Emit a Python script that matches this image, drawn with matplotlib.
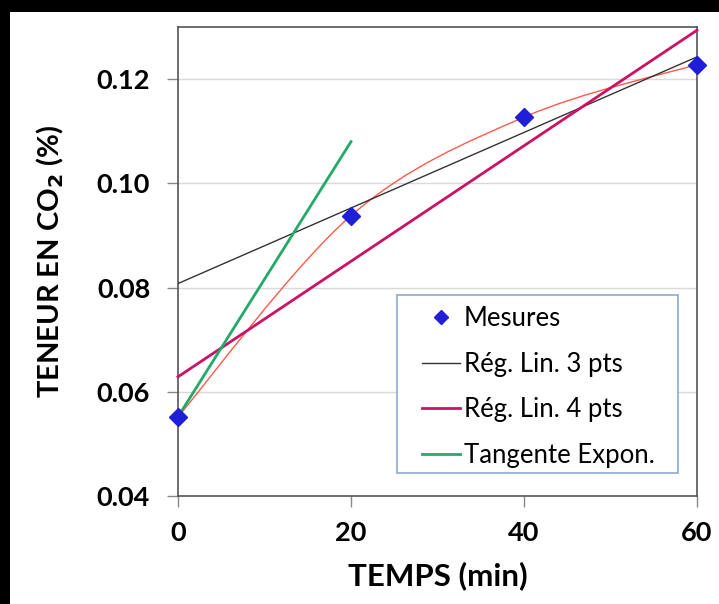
import numpy as np
import matplotlib
matplotlib.use("Agg")
import matplotlib.pyplot as plt
from matplotlib.path import Path
from matplotlib.patches import PathPatch, Rectangle

# Data
temps = [0, 20, 40, 60]
teneur = [0.0552, 0.0938, 0.1127, 0.1228]
tangente_x = [0, 20]
tangente_y = [0.0552, 0.1080]
x_ticks = [0, 20, 40, 60]
y_ticks = [0.04, 0.06, 0.08, 0.10, 0.12]
y_tick_labels = ["0.04", "0.06", "0.08", "0.10", "0.12"]
legend_labels = ["Mesures", "Rég. Lin. 3 pts", "Rég. Lin. 4 pts", "Tangente Expon."]

plt.rcParams['font.family'] = ['Lato', 'DejaVu Sans']

W, H = 719, 604
fig = plt.figure(figsize=(W/100, H/100), dpi=100, facecolor='black')
fig.patches.append(Rectangle((10/W, 0), 1, 1 - 12/H, transform=fig.transFigure,
                             facecolor='white', edgecolor='none', zorder=-10))
ax = fig.add_axes([178/W, 1 - 496/H, (697-178)/W, (496-27)/H])
ax.set_xlim(0, 60)
ax.set_ylim(0.04, 0.13)

xs = np.array(temps, dtype=float)
ys = np.array(teneur, dtype=float)

# Regression lines
p3 = np.polyfit(xs[1:], ys[1:], 1)
p4 = np.polyfit(xs, ys, 1)
xl = np.array([0, 60])
l3, = ax.plot(xl, np.polyval(p3, xl), color='#333333', lw=1.0, zorder=3)
l4, = ax.plot(xl, np.polyval(p4, xl), color='#cc1166', lw=2.0, zorder=3, clip_on=False)
lt, = ax.plot(tangente_x, tangente_y, color='#22aa66', lw=2.0, zorder=3)

# Excel-like smoothed line through measures (Bezier)
pts = np.column_stack([xs, ys])
verts = [pts[0]]
codes = [Path.MOVETO]
n = len(pts)
for i in range(n - 1):
    p_prev = pts[i - 1] if i > 0 else pts[i]
    p_next2 = pts[i + 2] if i + 2 < n else pts[i + 1]
    c1 = pts[i] + (pts[i + 1] - p_prev) / 6
    c2 = pts[i + 1] - (p_next2 - pts[i]) / 6
    verts += [c1, c2, pts[i + 1]]
    codes += [Path.CURVE4] * 3
ax.add_patch(PathPatch(Path(verts, codes), facecolor='none', edgecolor='#ff5a4a', lw=1.0, zorder=2))

mk, = ax.plot(temps, teneur, linestyle='none', marker='D', markersize=9,
              color='#1f1fd8', zorder=5, clip_on=False)

ax.set_xticks(x_ticks)
ax.set_yticks(y_ticks)
ax.set_yticklabels(y_tick_labels)
ax.grid(axis='y', color='#d9d9d9', lw=1.0)
ax.set_axisbelow(True)
for s in ax.spines.values():
    s.set_color('#555555')
    s.set_linewidth(1.2)
ax.tick_params(axis='both', direction='out', length=8, color='#888888', width=1,
               labelsize=19.5)
ax.tick_params(axis='x', pad=10)
ax.tick_params(axis='y', pad=12)
for lab in ax.get_xticklabels() + ax.get_yticklabels():
    lab.set_fontweight('bold')

ax.set_xlabel('TEMPS (min)', fontsize=22.5, fontweight='bold', labelpad=12)
ax.set_ylabel('TENEUR EN CO$_\\mathbf{2}$ (%)', fontsize=21, fontweight='bold', labelpad=22)

# Legend frame drawn as a box, legend content placed inside it
fig.patches.append(Rectangle((397/W, 1 - 473/H), (678-397)/W, (473-295)/H,
                             transform=fig.transFigure, facecolor='white',
                             edgecolor='#8eaacb', lw=1.2, zorder=4))
leg = fig.legend([mk, l3, l4, lt], legend_labels, loc='upper left',
                 bbox_to_anchor=(422/W, 1 - 306/H), fontsize=18.5, frameon=False,
                 handlelength=1.48, handletextpad=0.15, labelspacing=0.8,
                 borderpad=0, borderaxespad=0, markerscale=0.8)
leg.set_zorder(6)

fig.savefig('out.png', dpi=100, facecolor=fig.get_facecolor())
